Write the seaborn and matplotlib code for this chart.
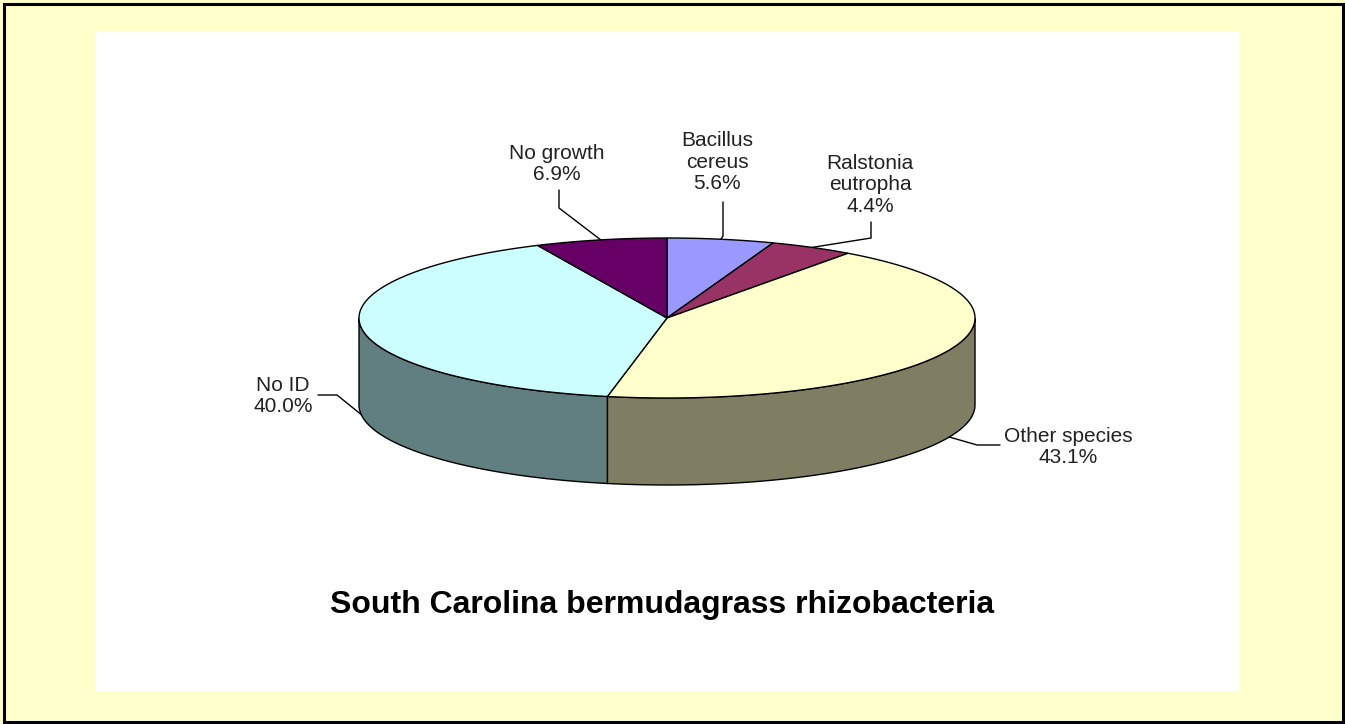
import numpy as np
import matplotlib
matplotlib.use("Agg")
import matplotlib.pyplot as plt
from matplotlib.patches import Polygon, Rectangle
import seaborn as sns

# slice data, clockwise from 12 o'clock
labels = ["Bacillus\ncereus", "Ralstonia\neutropha", "Other species", "No ID", "No growth"]
shares = [5.6, 4.4, 43.1, 40.0, 6.9]
top_colors = ["#9999ff", "#993366", "#ffffcc", "#ccffff", "#660066"]
side_colors = ["#4d4d80", "#4d1a33", "#7f7d62", "#617f80", "#330033"]

# label placement (pixels) and leader elbows
label_pos = [(717, 162), (870, 185), (1068, 447), (283, 396), (557, 164)]
leader_start = [(723, 202), (871, 222), (1000, 445), (318, 395), (559, 190)]
leader_elbow = [(723, 236), (871, 238), (977, 445), (337, 395), (559, 208)]

sns.set_theme(style="white")
plt.rcParams["font.family"] = ["Liberation Sans", "DejaVu Sans"]

W, H = 1345, 724
fig = plt.figure(figsize=(W / 100, H / 100), dpi=100, facecolor="#ffffcc")
ax = fig.add_axes([0, 0, 1, 1])
ax.set_xlim(0, W)
ax.set_ylim(H, 0)
ax.axis("off")
ax.set_facecolor("#ffffcc")

# frame and white plot area
ax.add_patch(Rectangle((95, 31), 1144, 660, facecolor="white", edgecolor="none", zorder=0))
ax.add_patch(Rectangle((3.5, 3.5), W - 6, H - 6, facecolor="none", edgecolor="black", lw=2.2, zorder=10))

# 3d pie geometry
cx, cy, a, b, depth = 667, 318, 308, 80, 87


def ell(theta_deg):
    t = np.radians(theta_deg)
    return cx + a * np.cos(t), cy - b * np.sin(t)


fracs = np.array(shares) / sum(shares)
ends = 90 - 360 * np.cumsum(fracs)
starts = np.concatenate([[90], ends[:-1]])

# side walls (front half only)
for i in range(len(shares)):
    hi = min(starts[i], 0)
    lo = max(ends[i], -180)
    if hi <= lo:
        continue
    th = np.linspace(hi, lo, 120)
    xs, ys = ell(th)
    pts = np.column_stack([np.concatenate([xs, xs[::-1]]),
                           np.concatenate([ys, ys[::-1] + depth])])
    ax.add_patch(Polygon(pts, closed=True, facecolor=side_colors[i],
                         edgecolor="black", lw=1.0, zorder=2))

# top faces
for i in range(len(shares)):
    th = np.linspace(starts[i], ends[i], 200)
    xs, ys = ell(th)
    pts = np.column_stack([np.concatenate([[cx], xs]), np.concatenate([[cy], ys])])
    ax.add_patch(Polygon(pts, closed=True, facecolor=top_colors[i],
                         edgecolor="black", lw=1.0, zorder=3))

# labels and leader lines
for i, lab in enumerate(labels):
    mid = (starts[i] + ends[i]) / 2
    px, py = ell(mid)
    if np.sin(np.radians(mid)) < 0:
        py += depth
    sx, sy = leader_start[i]
    ex, ey = leader_elbow[i]
    ax.plot([sx, ex, px], [sy, ey, py], color="black", lw=1.0, zorder=4)
    ax.text(label_pos[i][0], label_pos[i][1], f"{lab}\n{shares[i]:.1f}%",
            ha="center", va="center", fontsize=15, color="#222222",
            linespacing=1.15, zorder=5)

ax.text(662, 613, "South Carolina bermudagrass rhizobacteria", ha="center",
        va="baseline", fontsize=23, fontweight="bold", color="black", zorder=5)

fig.savefig("out.png", dpi=100, facecolor=fig.get_facecolor())
